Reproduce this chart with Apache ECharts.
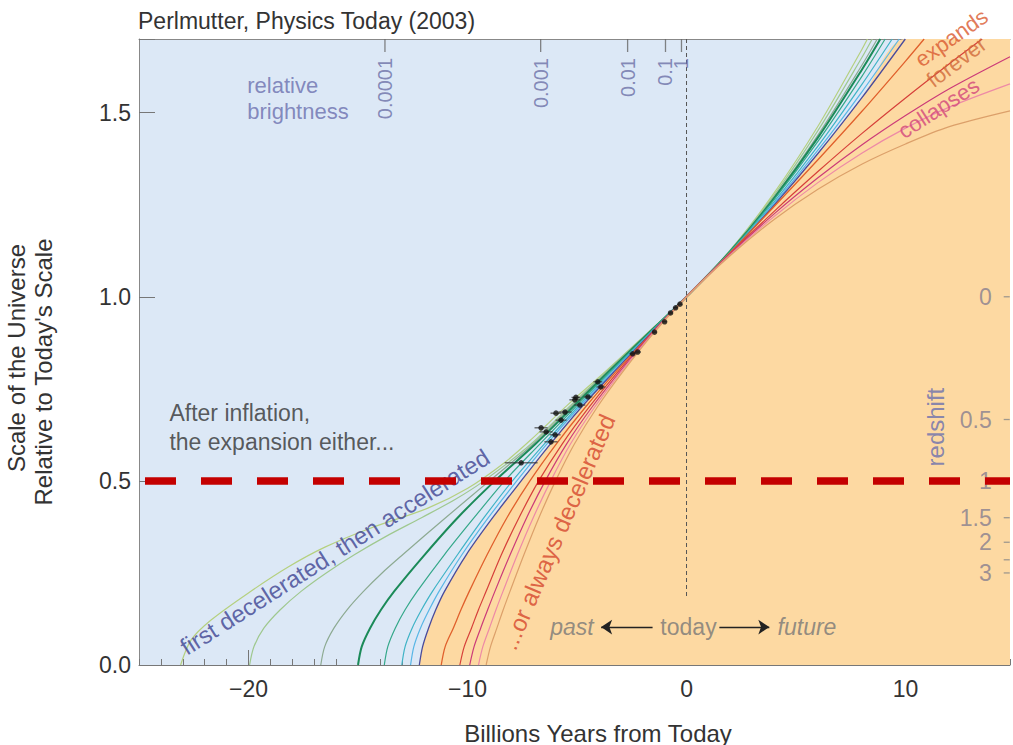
<!DOCTYPE html>
<html>
<head>
<meta charset="utf-8">
<script src="https://cdn.jsdelivr.net/npm/echarts@6/dist/echarts.min.js"></script>
<style>
html,body{margin:0;padding:0;background:#ffffff;}
#chart{width:1013px;height:745px;}
</style>
</head>
<body>
<div id="chart"></div>
<script>
// ---------------- data ----------------
const xMajorTicks = [-20, -10, 0, 10];
const yTickValues = [0, 0.5, 1.0, 1.5];

// "first decelerated, then accelerated" family (blue region)
const accel1 = [[-23.1,0],[-22.62,0.068],[-21.71,0.122],[-20.02,0.195],[-18.19,0.266],[-16.51,0.32],[-14.41,0.372],[-11.81,0.426],[-9.99,0.48],[-8.3,0.55],[-7.1,0.612],[-5.45,0.705],[-3.65,0.8],[-1.82,0.9],[0,1],[2,1.127],[4,1.282],[6,1.463],[8,1.671],[8.26,1.7]];
const accel2 = [[-19.95,0],[-19.75,0.05],[-19.3,0.1],[-18.55,0.15],[-17.6,0.2],[-16.45,0.25],[-15.15,0.3],[-13.7,0.35],[-12.1,0.4],[-10.55,0.45],[-9.25,0.5],[-7.1,0.6],[-5.38,0.7],[-3.6,0.8],[-1.8,0.9],[0,1],[2,1.126],[4,1.276],[6,1.451],[8,1.649],[8.48,1.7]];
const accel3 = [[-16.7,0],[-16.52,0.05],[-16.1,0.1],[-15.5,0.15],[-14.75,0.2],[-13.9,0.25],[-12.95,0.3],[-11.0,0.4],[-9.0,0.5],[-7.0,0.6],[-5.3,0.7],[-3.55,0.8],[-1.78,0.9],[0,1],[2,1.125],[4,1.271],[6,1.439],[8,1.628],[8.71,1.7]];
const accel4 = [[-15.0,0],[-14.83,0.05],[-14.45,0.1],[-13.95,0.15],[-13.35,0.2],[-11.95,0.3],[-10.45,0.4],[-8.75,0.5],[-6.9,0.6],[-5.2,0.7],[-3.5,0.8],[-1.75,0.9],[0,1],[2,1.124],[4,1.268],[6,1.432],[8,1.616],[8.85,1.7]];
const accel5 = [[-13.8,0],[-13.64,0.05],[-13.3,0.1],[-12.85,0.15],[-12.3,0.2],[-11.05,0.3],[-9.7,0.4],[-8.3,0.5],[-6.7,0.6],[-5.08,0.7],[-3.43,0.8],[-1.72,0.9],[0,1],[2,1.123],[4,1.264],[6,1.422],[8,1.598],[9.07,1.7]];
const accel6 = [[-13.0,0],[-12.85,0.05],[-12.53,0.1],[-12.1,0.15],[-11.6,0.2],[-10.45,0.3],[-9.25,0.4],[-7.95,0.5],[-6.5,0.6],[-4.98,0.7],[-3.37,0.8],[-1.7,0.9],[0,1],[2,1.121],[4,1.258],[6,1.409],[8,1.576],[9.39,1.7]];
const accel7 = [[-12.6,0],[-12.45,0.05],[-12.15,0.1],[-11.75,0.15],[-11.3,0.2],[-10.25,0.3],[-9.05,0.4],[-7.75,0.5],[-6.38,0.6],[-4.9,0.7],[-3.3,0.8],[-1.67,0.9],[0,1],[2,1.12],[4,1.253],[6,1.398],[8,1.556],[9.71,1.7]];
const accel8 = [[-12.2,0],[-12.05,0.05],[-11.78,0.1],[-11.45,0.15],[-11.05,0.2],[-10.05,0.3],[-8.85,0.4],[-7.55,0.5],[-6.22,0.6],[-4.8,0.7],[-3.25,0.8],[-1.65,0.9],[0,1],[2,1.119],[4,1.249],[6,1.389],[8,1.54],[9.99,1.7]];

// "...or always decelerated" family (orange region)
const decel1 = [[-11.2,0],[-11.02,0.05],[-10.65,0.1],[-10.3,0.15],[-9.92,0.2],[-9.1,0.3],[-8.2,0.4],[-7.15,0.5],[-5.95,0.6],[-4.62,0.7],[-3.17,0.8],[-1.62,0.9],[0,1],[2,1.12],[4,1.245],[6,1.372],[8,1.503],[10,1.64],[10.85,1.7]];
const decel2 = [[-10.35,0],[-10.15,0.05],[-9.82,0.1],[-9.5,0.15],[-9.15,0.2],[-8.45,0.3],[-7.65,0.4],[-6.75,0.5],[-5.68,0.6],[-4.45,0.7],[-3.08,0.8],[-1.6,0.9],[0,1],[2,1.118],[4,1.232],[6,1.34],[8,1.443],[10,1.54],[12,1.633],[13.5,1.7]];
const decel3 = [[-9.9,0],[-9.7,0.05],[-9.4,0.1],[-9.08,0.15],[-8.75,0.2],[-8.05,0.3],[-7.3,0.4],[-6.45,0.5],[-5.48,0.6],[-4.32,0.7],[-3.0,0.8],[-1.58,0.9],[0,1],[2,1.116],[4,1.225],[6,1.323],[8,1.412],[10,1.492],[12,1.565],[14.77,1.652]];
const decel4 = [[-9.5,0],[-9.3,0.05],[-9.0,0.1],[-8.7,0.15],[-8.38,0.2],[-7.72,0.3],[-7.0,0.4],[-6.2,0.5],[-5.3,0.6],[-4.2,0.7],[-2.93,0.8],[-1.55,0.9],[0,1],[2,1.114],[4,1.218],[6,1.31],[8,1.39],[10,1.458],[12,1.515],[14.77,1.578]];
const decel5 = [[-9.15,0],[-8.95,0.05],[-8.66,0.1],[-8.37,0.15],[-8.06,0.2],[-7.42,0.3],[-6.74,0.4],[-5.98,0.5],[-5.12,0.6],[-4.08,0.7],[-2.86,0.8],[-1.52,0.9],[0,1],[2,1.112],[4,1.21],[6,1.292],[8,1.36],[10,1.415],[12,1.462],[14.77,1.505]];

// supernova measurements: [years from today, scale, half-width of error bar]
const supernovae = [[-7.55,0.549,0.75],[-6.64,0.644,0.3],[-6.41,0.633,0.3],[-6.19,0.606,0.3],[-6.0,0.625,0.25],[-5.96,0.684,0.25],[-5.73,0.665,0.25],[-5.55,0.687,0.3],[-5.1,0.72,0.25],[-5.05,0.727,0.2],[-4.87,0.706,0.25],[-4.5,0.728,0.2],[-4.05,0.769,0.2],[-3.91,0.755,0.2],[-2.46,0.845,0.15],[-2.23,0.85,0.15],[-1.46,0.904,0.1],[-1.0,0.932,0.1],[-0.73,0.956,0.1],[-0.5,0.97,0.1],[-0.3,0.98,0.1]];

// top "relative brightness" scale
const brightnessPositions = [-13.77, -6.66, -2.69, -0.96, -0.23];
const brightnessLabels = ['0.0001', '0.001', '0.01', '0.1', '1'];

// right "redshift" scale
const redshiftValues = [0, 0.5, 1, 1.5, 2, 2.5, 3];
const redshiftLabels = ['0', '0.5', '1', '1.5', '2', '', '3'];

const referenceScale = 0.5;   // thick red dashed line
const todayLine = [[0, 1.7], [0, 0.18]];

// ---------------- layout / style ----------------
const X_MIN = -25, X_MAX = 14.77, Y_MIN = 0, Y_MAX = 1.7;
const FONT = '"Liberation Sans", Arial, Helvetica, sans-serif';

const curves = [accel1, accel2, accel3, accel4, accel5, accel6, accel7, accel8, decel1, decel2, decel3, decel4, decel5];
const curveColors = ['#b5d07f', '#9fc88f', '#8daa92', '#1b8a58', '#35a88a', '#3fb3c6', '#58b6e6', '#4a4c9c', '#e0602c', '#d6403a', '#cc3b78', '#ee8aa6', '#dca06a'];
const curveWidths = [1.2, 1.2, 1.2, 2.0, 1.2, 1.2, 1.2, 1.3, 1.3, 1.2, 1.2, 1.2, 1.2];
const SMOOTH = 0.3;

const chart = echarts.init(document.getElementById('chart'), null, {renderer: 'svg'});

const fmtX = v => (Math.abs(v % 10) < 1e-9 ? (v < 0 ? '\u2212' + (-v) : String(Math.abs(v))) : '');
const fmtY = v => (yTickValues.some(t => Math.abs(t - v) < 1e-9) ? v.toFixed(1) : '');

const series = [];

// orange "always decelerated" region, bounded by the boundary curve
series.push({
  type: 'line', data: accel8.concat([[X_MAX, Y_MAX]]), smooth: SMOOTH, showSymbol: false, symbol: 'none',
  lineStyle: {width: 0, opacity: 0}, areaStyle: {color: '#fdd9a2', opacity: 1, origin: 'start'},
  silent: true, z: 1, xAxisIndex: 0, yAxisIndex: 0
});

curves.forEach((d, i) => {
  series.push({
    type: 'line', data: d, smooth: SMOOTH, symbol: 'none', showSymbol: false,
    lineStyle: {color: curveColors[i], width: curveWidths[i]},
    silent: true, z: 3
  });
});

// today dashed vertical line
series.push({
  type: 'line', data: todayLine, symbol: 'none', silent: true, z: 4,
  lineStyle: {color: '#555', width: 1, type: [4, 3]}
});

// error bars
series.push({
  type: 'custom', data: supernovae, encode: {x: 0, y: 1}, silent: true, z: 8,
  renderItem: (params, api) => {
    const x = api.value(0), y = api.value(1), e = api.value(2);
    const a = api.coord([x - e, y]), b = api.coord([x + e, y]);
    return {type: 'line', shape: {x1: a[0], y1: a[1], x2: b[0], y2: b[1]}, style: {stroke: '#333', lineWidth: 1}};
  }
});

// supernova dots
series.push({
  type: 'scatter', data: supernovae.map(d => [d[0], d[1]]), symbolSize: 5.5,
  itemStyle: {color: '#111'}, silent: true, z: 9
});

// relative brightness scale (top)
series.push({
  type: 'scatter', clip: false, silent: true, z: 6,
  data: brightnessPositions.map((x, i) => ({value: [x, Y_MAX], label: {formatter: brightnessLabels[i]}})),
  symbol: 'rect', symbolSize: [1.3, 13], symbolOffset: [0, 6.5],
  itemStyle: {color: '#666'},
  label: {show: true, position: [0.65, 19], align: 'right', verticalAlign: 'middle', rotate: 90,
          fontSize: 20, color: '#6b6fa6', fontFamily: FONT}
});

// redshift scale (right)
series.push({
  type: 'scatter', clip: false, silent: true, z: 6,
  data: redshiftValues.map((z, i) => ({value: [14.62, 1 / (1 + z)], label: {formatter: redshiftLabels[i]}})),
  symbol: 'rect', symbolSize: [6, 1.3],
  itemStyle: {color: '#888'},
  label: {show: true, position: 'left', distance: 12, fontSize: 23, color: '#857d8f', fontFamily: FONT}
});

// text annotations
series.push({
  type: 'scatter', clip: false, silent: true, z: 12, symbolSize: 0,
  label: {show: true, position: 'inside', verticalAlign: 'middle', fontFamily: FONT},
  data: [
    {value: [-20.06, 1.539], label: {formatter: 'relative\nbrightness', align: 'left', color: '#6b6fae', fontSize: 22, lineHeight: 26}},
    {value: [-23.61, 0.645], label: {formatter: 'After inflation,\nthe expansion either...', align: 'left', color: '#333', fontSize: 23, lineHeight: 29}},
    {value: [-16.06, 0.307], label: {formatter: 'first decelerated, then accelerated', rotate: 32.5, color: '#3d4290', fontSize: 24}},
    {value: [-5.87, 0.361], label: {formatter: '...or always decelerated', rotate: 66.6, color: '#d5452c', fontSize: 24}},
    {value: [11.37, 0.646], label: {formatter: 'redshift', rotate: 90, color: '#6b6fae', fontSize: 24}},
    {value: [12.1, 1.703], label: {formatter: 'expands', rotate: 35, color: '#d9582e', fontSize: 22}},
    {value: [12.33, 1.638], label: {formatter: 'forever', rotate: 37, color: '#d06838', fontSize: 22}},
    {value: [11.51, 1.512], label: {formatter: 'collapses', rotate: 33, color: '#d2447a', fontSize: 22}},
    {value: [-5.23, 0.103], label: {formatter: 'past', fontStyle: 'italic', color: '#777', fontSize: 23}},
    {value: [0.09, 0.103], label: {formatter: 'today', color: '#777', fontSize: 23}},
    {value: [5.5, 0.103], label: {formatter: 'future', fontStyle: 'italic', color: '#777', fontSize: 23}}
  ],
  markLine: {
    silent: true, animation: false, symbol: ['none', 'arrow'], symbolSize: 11,
    label: {show: false}, lineStyle: {color: '#222', width: 1.3, type: 'solid'},
    emphasis: {disabled: true},
    data: [
      [{coord: [-1.55, 0.103]}, {coord: [-3.9, 0.103]}],
      [{coord: [1.5, 0.103]}, {coord: [3.78, 0.103]}]
    ]
  }
});

// thick red dashed reference line at scale 0.5
series.push({
  type: 'line', data: [[X_MIN, referenceScale], [X_MAX, referenceScale]], symbol: 'none', silent: true, z: 20,
  lineStyle: {color: '#c40000', width: 7.5, type: [31, 25], dashOffset: 50}
});

const option = {
  animation: false,
  backgroundColor: '#ffffff',
  textStyle: {fontFamily: FONT},
  grid: {left: 139, right: 0, top: 39, bottom: 80, show: true, backgroundColor: '#dce8f6', borderWidth: 0, containLabel: false},
  xAxis: [
    {type: 'value', min: X_MIN, max: X_MAX, interval: 1, position: 'bottom',
     axisLine: {show: true, onZero: false, lineStyle: {color: '#777', width: 1}},
     axisTick: {show: true, inside: true, length: 6, lineStyle: {color: '#777'}},
     axisLabel: {interval: 0, margin: 12, fontSize: 23, color: '#333', formatter: fmtX, fontFamily: FONT},
     splitLine: {show: false}},
    {type: 'value', min: X_MIN, max: X_MAX, position: 'bottom',
     axisLine: {show: false, onZero: false},
     axisTick: {show: true, inside: true, length: 15, customValues: xMajorTicks, lineStyle: {color: '#777'}},
     axisLabel: {show: false}, splitLine: {show: false}},
    {type: 'value', min: X_MIN, max: X_MAX, position: 'top',
     axisLine: {show: true, onZero: false, lineStyle: {color: '#888', width: 1}},
     axisTick: {show: false}, axisLabel: {show: false}, splitLine: {show: false}}
  ],
  yAxis: [
    {type: 'value', min: Y_MIN, max: Y_MAX, interval: 0.5, position: 'left',
     axisLine: {show: true, onZero: false, lineStyle: {color: '#888', width: 1}},
     axisTick: {show: true, inside: true, length: 16, lineStyle: {color: '#777'}},
     axisLabel: {margin: 8, fontSize: 23, color: '#333', formatter: fmtY, fontFamily: FONT},
     splitLine: {show: false}}
  ],
  graphic: [
    {type: 'text', left: 138, top: 9, silent: true,
     style: {text: 'Perlmutter, Physics Today (2003)', fontSize: 23, fill: '#333', fontFamily: FONT}},
    {type: 'text', x: 598, y: 733, silent: true,
     style: {text: 'Billions Years from Today', fontSize: 24, fill: '#333', fontFamily: FONT,
             align: 'center', verticalAlign: 'middle', textAlign: 'center', textVerticalAlign: 'middle'}},
    {type: 'text', x: 16, y: 358, rotation: Math.PI / 2, silent: true,
     style: {text: 'Scale of the Universe', fontSize: 24, fill: '#333', fontFamily: FONT,
             align: 'center', verticalAlign: 'middle', textAlign: 'center', textVerticalAlign: 'middle'}},
    {type: 'text', x: 43, y: 372, rotation: Math.PI / 2, silent: true,
     style: {text: "Relative to Today's Scale", fontSize: 24, fill: '#333', fontFamily: FONT,
             align: 'center', verticalAlign: 'middle', textAlign: 'center', textVerticalAlign: 'middle'}}
  ],
  series: series
};

chart.setOption(option);
</script>
</body>
</html>
